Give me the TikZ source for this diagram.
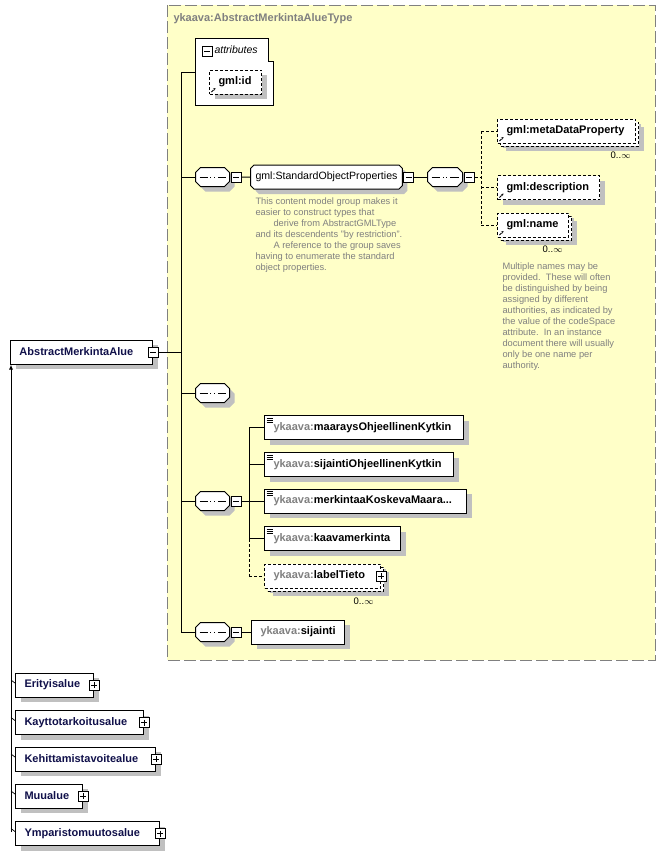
\documentclass[tikz,border=0pt]{standalone}
\usepackage{fontspec}
\setmainfont{Liberation Sans}
\usetikzlibrary{shapes.misc,shadows,arrows.meta}
\definecolor{xsdyellow}{HTML}{FFFFC8}
\definecolor{xsdgray}{HTML}{808080}
\definecolor{xsdshadow}{HTML}{C0C0C0}
\definecolor{xsdnavy}{HTML}{10104A}
\hyphenpenalty=10000
\exhyphenpenalty=10000
\newcommand{\pfx}{\textcolor{xsdgray}{ykaava:}}
\newcommand{\occ}{0..$\infty$}

\begin{document}
\begin{tikzpicture}[x=1pt,y=-1pt,line width=1pt,
  xshadow/.style={drop shadow={shadow xshift=5pt,shadow yshift=-5pt,fill=xsdshadow,opacity=1}},
  xelem/.style={draw,fill=white,xshadow,anchor=west,minimum height=24pt,inner xsep=9pt,inner ysep=0pt,align=left,font=\bfseries\fontsize{11}{13}\selectfont},
  xtext/.style={path picture={\foreach \k in {0,1,2} \draw[line width=0.7pt] ([xshift=2pt,yshift={-(2.5+2*\k)*1pt}]path picture bounding box.north west) -- ++(6pt,0pt);}},
  xopt/.style={dash pattern=on 3pt off 2pt},
  xref/.style={xelem,xopt,path picture={\draw[line width=0.8pt,-{Stealth[length=2.5pt,width=2.5pt]}] ([xshift=2pt,yshift=2pt]path picture bounding box.south west) -- ++(4pt,4pt);}},
  xmulti/.style={drop shadow={shadow xshift=8pt,shadow yshift=-8pt,fill=xsdshadow,opacity=1},copy shadow={shadow xshift=3pt,shadow yshift=-3pt,fill=white,draw=black,dash pattern=on 3pt off 2pt}},
  xseq/.style={chamfered rectangle,chamfered rectangle xsep=2.5pt,chamfered rectangle ysep=2.5pt,draw,fill=white,xshadow,minimum width=0pt,minimum height=0pt,inner xsep=14.5pt,inner ysep=7pt,anchor=west,
    path picture={\draw ([xshift=4pt]path picture bounding box.west) -- ([xshift=-4pt]path picture bounding box.east);
      \foreach \d in {-3.6,0,3.6} \fill ([xshift=\d pt]path picture bounding box.center) ++(-1.4pt,-1.4pt) rectangle ++(2.8pt,2.8pt);}},
  xgrp/.style={chamfered rectangle,chamfered rectangle xsep=1.75pt,chamfered rectangle ysep=1.75pt,draw,fill=white,xshadow,minimum width=0pt,minimum height=0pt,text height=8pt,text depth=2.5pt,inner xsep=3.25pt,inner ysep=5pt,anchor=west,font=\fontsize{10.6}{12}\selectfont},
  xminus/.style={draw,fill=white,minimum size=10pt,inner sep=0pt,path picture={\draw ([xshift=2pt]path picture bounding box.west) -- ([xshift=-2pt]path picture bounding box.east);}},
  xplus/.style={draw,fill=white,minimum size=10pt,inner sep=0pt,path picture={\draw ([xshift=2pt]path picture bounding box.west) -- ([xshift=-2pt]path picture bounding box.east); \draw ([yshift=-2pt]path picture bounding box.north) -- ([yshift=2pt]path picture bounding box.south);}},
  xnote/.style={anchor=north west,inner sep=0pt,align=left,text=xsdgray,font=\fontsize{9.3}{11}\selectfont},
  xocc/.style={anchor=north east,inner sep=0pt,font=\fontsize{9.5}{11}\selectfont},
  xlink/.style={dash pattern=on 3pt off 2pt}
]
\useasboundingbox (0,0) rectangle (666,855);
% complex type frame
\draw[xsdgray,dash pattern=on 12pt off 4pt,fill=xsdyellow] (167,5) rectangle (655,660);
\node at (173,19)[anchor=west,inner sep=0pt,text=xsdgray,font=\bfseries\fontsize{11}{13}\selectfont] (title) {ykaava:AbstractMerkintaAlueType};

% attributes
\draw[fill=white] (195,38) -- (268,38) -- (268,61) -- (273,61) -- (273,105) -- (195,105) -- cycle;
\node at (207,51)[xminus] (attrT) {};
\node at (214,50)[anchor=west,inner sep=0pt,font=\itshape\fontsize{10.5}{12}\selectfont] (attrs) {attributes};
\coordinate (attrL) at (195,72);
\node at (209,82)[xref,text width=34pt] (gmlid) {gml:id};

% element
\node at (10,352)[xelem,text width=124pt,text=xsdnavy] (abs) {AbstractMerkintaAlue};
\node at (abs.east)[xminus] (absT) {};
\coordinate (trTop) at (181,72);
\coordinate (trBot) at (181,632);
\draw (trTop) -- (trBot);
\draw (trTop) -- (attrL);
\draw (absT) -- (absT -| trTop);

% StandardObjectProperties
\node at (195,177)[xseq] (seqSop) {};
\node at ([xshift=6pt]seqSop.east)[xminus] (seqSopT) {};
\node at (250,177)[xgrp] (sop) {gml:StandardObjectProperties};
\node at ([xshift=6pt]sop.east)[xminus] (sopT) {};
\node at (255,197)[xnote] (sopNote) {This content model group makes it\\
easier to construct types that\\
\hspace*{18pt}derive from AbstractGMLType\\
and its descendents "by restriction".\\
\hspace*{18pt}A reference to the group saves\\
having to enumerate the standard\\
object properties.};
\draw (seqSop) -- (seqSop -| trTop);
\draw (seqSopT) -- (sop);
\node at (427,177)[xseq,inner xsep=15pt] (seqGml) {};
\node at ([xshift=6pt]seqGml.east)[xminus] (seqGmlT) {};
\draw (sopT) -- (seqGml);
\coordinate (gmlBus) at (481,177);
\node at (497,131)[xref,xmulti,text width=120pt] (meta) {gml:metaDataProperty};
\node at (497,187.5)[xref,text width=84pt] (desc) {gml:description};
\node at (497,225)[xref,xmulti,text width=53pt] (gname) {gml:name};
\node at ([xshift=-5pt,yshift=-8pt]meta.south east)[xocc] (metaOcc) {\occ};
\node at ([xshift=-6pt,yshift=-8pt]gname.south east)[xocc] (gnameOcc) {\occ};
\draw[xlink] (seqGmlT) -- (gmlBus);
\draw[xlink] (meta.west -| gmlBus) -- (gname.west -| gmlBus);
\foreach \n in {meta,desc,gname} \draw[xlink] (\n.west -| gmlBus) -- (\n.west);
\node at (502,262)[xnote] (nameNote) {Multiple names may be\\
provided.\ \ These will often\\
be distinguished by being\\
assigned by different\\
authorities, as indicated by\\
the value of the codeSpace\\
attribute.\ \ In an instance\\
document there will usually\\
only be one name per\\
authority.};

% empty sequence
\node at (195,393)[xseq] (seqEmpty) {};
\draw (seqEmpty) -- (seqEmpty -| trTop);

% local elements
\node at (195,501)[xseq] (seqElem) {};
\node at ([xshift=6pt]seqElem.east)[xminus] (seqElemT) {};
\draw (seqElem) -- (seqElem -| trTop);
\coordinate (elBus) at (249,501);
\draw (seqElemT) -- (elBus);
\node at (264,427.5)[xelem,xtext,text width=181pt] (mok) {\pfx maaraysOhjeellinenKytkin};
\node at (264,464.5)[xelem,xtext,text width=171pt] (sok) {\pfx sijaintiOhjeellinenKytkin};
\node at (264,501)[xelem,xtext,text width=184pt] (mkm) {\pfx merkintaaKoskevaMaara...};
\node at (264,538.5)[xelem,xtext,text width=118pt] (kmk) {\pfx kaavamerkinta};
\node at (264,576)[xelem,xopt,xmulti,text width=98pt] (ltt) {\pfx labelTieto};
\node at (ltt.east)[xplus] (lttT) {};
\node at ([xshift=-7pt,yshift=-9pt]ltt.south east)[xocc] (lttOcc) {\occ};
\draw (mok.west -| elBus) -- (kmk.west -| elBus);
\draw[xlink] (kmk.west -| elBus) -- (ltt.west -| elBus);
\foreach \n in {mok,sok,mkm,kmk} \draw (\n.west -| elBus) -- (\n.west);
\draw[xlink] (ltt.west -| elBus) -- (ltt.west);

% sijainti
\node at (195,632)[xseq] (seqSij) {};
\node at ([xshift=6pt]seqSij.east)[xminus] (seqSijT) {};
\node at (251,632)[xelem,text width=75pt] (sij) {\pfx sijainti};
\draw (seqSij) -- (trBot);
\draw (seqSijT) -- (sij);

% derived types
\node at (15,685)[xelem,text width=60pt,text=xsdnavy] (eri) {Erityisalue};
\node at (eri.east)[xplus] (eriT) {};
\node at (15,722.5)[xelem,text width=110pt,text=xsdnavy] (kay) {Kayttotarkoitusalue};
\node at (kay.east)[xplus] (kayT) {};
\node at (15,759)[xelem,text width=122pt,text=xsdnavy] (keh) {Kehittamistavoitealue};
\node at (keh.east)[xplus] (kehT) {};
\node at (15,796)[xelem,text width=49pt,text=xsdnavy] (muu) {Muualue};
\node at (muu.east)[xplus] (muuT) {};
\node at (15,833.5)[xelem,text width=126pt,text=xsdnavy] (ymp) {Ymparistomuutosalue};
\node at (ymp.east)[xplus] (ympT) {};
\coordinate (subBot) at (11,832);
\draw[-{Latex[length=5pt,width=4pt]}] (subBot) -- (abs.south west -| subBot);
\foreach \n in {eri,kay,keh,muu,ymp} \draw[line width=0.7pt] ([yshift=2pt]\n.west) -- ++(-4pt,3pt);
\end{tikzpicture}
\end{document}
